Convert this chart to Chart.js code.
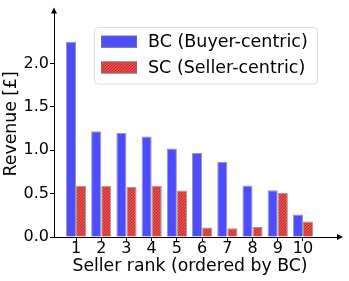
<!DOCTYPE html>
<html>
<head>
<meta charset="utf-8">
<script src="https://cdn.jsdelivr.net/npm/chart.js@4.4.1/dist/chart.umd.min.js"></script>
<style>
  body { margin: 0; background: #fff; }
</style>
</head>
<body>
<canvas id="myChart" width="349" height="281"></canvas>
<script>
const ranks = [1, 2, 3, 4, 5, 6, 7, 8, 9, 10];
const bcRevenue = [2.25, 1.22, 1.20, 1.16, 1.02, 0.97, 0.865, 0.595, 0.54, 0.26];
const scRevenue = [0.59, 0.59, 0.58, 0.59, 0.535, 0.11, 0.10, 0.115, 0.51, 0.18];
const yTicks = [0, 0.5, 1.0, 1.5, 2.0];

const FONT = 'DejaVu Sans';

// hatch pattern for the SC bars (fine "////")
function makeHatch() {
  const c = document.createElement('canvas');
  c.width = 3; c.height = 3;
  const g = c.getContext('2d');
  g.fillStyle = '#ee4a4a';
  g.fillRect(0, 0, 3, 3);
  g.fillStyle = '#b33232';
  for (let i = 0; i < 3; i++) g.fillRect(i, 2 - i, 1, 1);
  return g.createPattern(c, 'repeat');
}
const hatch = makeHatch();

const data = {
  datasets: [{
    label: 'BC (Buyer-centric)',
    data: ranks.map((r, i) => ({x: r, y: bcRevenue[i]})),
    backgroundColor: '#4d4dff',
    borderColor: 'rgba(120,120,120,0.75)',
    borderWidth: 1
  }, {
    label: 'SC (Seller-centric)',
    data: ranks.map((r, i) => ({x: r, y: scRevenue[i]})),
    backgroundColor: hatch,
    borderColor: 'rgba(120,120,120,0.75)',
    borderWidth: 1
  }]
};

// legend box inside the plot, like the original
const boxLegend = {
  id: 'boxLegend',
  afterDraw(chart) {
    const ctx = chart.ctx;
    ctx.save();
    ctx.fillStyle = 'rgba(255,255,255,0.8)';
    ctx.strokeStyle = '#dcdcdc';
    ctx.lineWidth = 1;
    ctx.beginPath();
    ctx.roundRect(94.5, 27.5, 223, 56.5, 4);
    ctx.fill();
    ctx.stroke();
    const rows = [41.7, 67.5];
    chart.data.datasets.forEach((ds, i) => {
      ctx.fillStyle = ds.backgroundColor;
      ctx.fillRect(101, rows[i] - 6, 36, 12);
      ctx.strokeStyle = ds.borderColor;
      ctx.strokeRect(101.5, rows[i] - 5.5, 35, 11);
      ctx.fillStyle = '#000';
      ctx.font = '17.5px "' + FONT + '"';
      ctx.textBaseline = 'middle';
      ctx.fillText(ds.label, 148, rows[i] + 1);
    });
    ctx.restore();
  }
};

// x spine runs a bit past the axes box, then arrow heads on both spines
const axisArrows = {
  id: 'axisArrows',
  afterDraw(chart) {
    const a = chart.chartArea;
    const ctx = chart.ctx;
    const xEnd = a.right + 14;
    ctx.save();
    ctx.strokeStyle = '#000';
    ctx.lineWidth = 1;
    ctx.beginPath();
    ctx.moveTo(a.right, a.bottom + 0.5);
    ctx.lineTo(xEnd, a.bottom + 0.5);
    ctx.stroke();
    ctx.fillStyle = '#000';
    ctx.beginPath();
    ctx.moveTo(a.left, a.top - 3);
    ctx.lineTo(a.left - 3, a.top + 3);
    ctx.lineTo(a.left + 3, a.top + 3);
    ctx.closePath();
    ctx.fill();
    ctx.beginPath();
    ctx.moveTo(xEnd + 3, a.bottom);
    ctx.lineTo(xEnd - 3, a.bottom - 3);
    ctx.lineTo(xEnd - 3, a.bottom + 3);
    ctx.closePath();
    ctx.fill();
    ctx.restore();
  }
};

const config = {
  type: 'bar',
  data,
  options: {
    responsive: false,
    animation: false,
    devicePixelRatio: 1,
    categoryPercentage: 0.8,
    barPercentage: 1.0,
    layout: { padding: { top: 7, right: 23, left: 0, bottom: 0 } },
    plugins: { legend: { display: false }, tooltip: { enabled: false } },
    scales: {
      x: {
        type: 'linear',
        offset: false,
        min: 0.127,
        max: 10.913,
        afterBuildTicks: s => { s.ticks = ranks.map(v => ({value: v})); },
        afterFit: s => { s.height = 44; },
        ticks: { color: '#000', font: { family: FONT, size: 16 }, padding: -2, maxRotation: 0, autoSkip: false },
        grid: { display: true, offset: false, drawOnChartArea: false, drawTicks: true, tickLength: 4, color: '#000' },
        border: { display: true, color: '#000', width: 1 },
        title: { display: true, text: 'Seller rank (ordered by BC)', color: '#000', font: { family: FONT, size: 17.3 }, padding: { top: 0, bottom: 4 } }
      },
      y: {
        min: 0,
        max: 2.61,
        afterBuildTicks: s => { s.ticks = yTicks.map(v => ({value: v})); },
        afterFit: s => { s.width = 54; },
        ticks: { color: '#000', font: { family: FONT, size: 16 }, padding: 1, callback: v => v.toFixed(1) },
        grid: { display: true, drawOnChartArea: false, drawTicks: true, tickLength: 4, color: '#000' },
        border: { display: true, color: '#000', width: 1 },
        title: { display: true, text: 'Revenue [£]', color: '#000', font: { family: FONT, size: 17.3 }, padding: { top: 1, bottom: 2 } }
      }
    }
  },
  plugins: [boxLegend, axisArrows]
};

const myChart = new Chart(document.getElementById('myChart'), config);
</script>
</body>
</html>
